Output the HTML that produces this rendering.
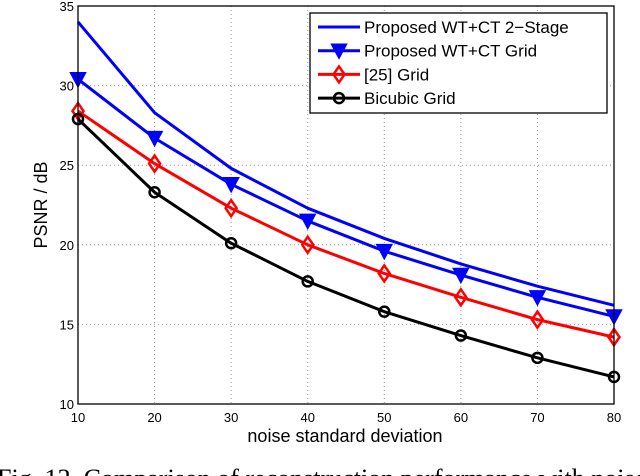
<!DOCTYPE html>
<html><head><meta charset="utf-8"><style>
body{margin:0;background:#fff;width:640px;height:476px;overflow:hidden}
svg{display:block;font-family:"Liberation Sans",sans-serif}
</style></head><body>
<svg width="640" height="476" id="chart">
<g id="grid"></g>
<g id="series"></g>
<rect x="78" y="6" width="536" height="398" fill="none" stroke="#000" stroke-width="1.3"/>
<g id="ticks" font-size="13"></g>
<text x="345" y="442" text-anchor="middle" font-size="18">noise standard deviation</text>
<text transform="translate(47,205) rotate(-90)" text-anchor="middle" font-size="18">PSNR / dB</text>
<g id="legend"></g>
<text x="-3" y="487" font-size="26" font-family="Liberation Serif,serif">Fig. 12. Comparison of reconstruction performance with noise</text>
</svg>
<script>
const xVals=[10,20,30,40,50,60,70,80];
const twoStage=[34.0,28.3,24.8,22.3,20.4,18.8,17.4,16.2];
const wtGrid=[30.4,26.7,23.8,21.5,19.6,18.1,16.7,15.5];
const ref25=[28.4,25.1,22.3,20.0,18.2,16.7,15.3,14.2];
const bicubic=[27.9,23.3,20.1,17.7,15.8,14.3,12.9,11.7];
const xTicks=[10,20,30,40,50,60,70,80];
const yTicks=[10,15,20,25,30,35];
const legendLabels=["Proposed WT+CT 2\u2212Stage","Proposed WT+CT Grid","[25] Grid","Bicubic Grid"];
const NS="http://www.w3.org/2000/svg";
const X=v=>78+(v-10)*(536/70);
const Y=v=>404-(v-10)*(398/25);
function mk(t,a,p){const e=document.createElementNS(NS,t);for(const k in a)e.setAttribute(k,a[k]);p.appendChild(e);return e;}
const grid=document.getElementById('grid'),ticks=document.getElementById('ticks');
xTicks.forEach(t=>{
 if(t>10&&t<80){const l=mk('line',{x1:X(t),x2:X(t),y1:6,y2:404,stroke:'#999','stroke-dasharray':'1,3'},grid);
 
 }
 const tx=mk('text',{x:X(t),y:422,'text-anchor':'middle'},ticks);tx.textContent=t;
 
 
});
yTicks.forEach(t=>{
 if(t>10&&t<35){const l=mk('line',{x1:78,x2:614,y1:Y(t),y2:Y(t),stroke:'#999','stroke-dasharray':'1,3'},grid);
 
 }
 const tx=mk('text',{x:74,y:Y(t)+5,'text-anchor':'end'},ticks);tx.textContent=t;
 
 
});
function marker(type,cx,cy,col,p){
 let m;
 if(type==='tri') m=mk('path',{d:`M${cx-7.5},${cy-6.5}L${cx+7.5},${cy-6.5}L${cx},${cy+7.5}Z`,fill:col,stroke:col,'stroke-width':1.5},p);
 else if(type==='dia') m=mk('path',{d:`M${cx},${cy-8}L${cx+5.5},${cy}L${cx},${cy+8}L${cx-5.5},${cy}Z`,fill:'none',stroke:col,'stroke-width':2.5},p);
 else if(type==='circ') m=mk('circle',{cx:cx,cy:cy,r:5,fill:'none',stroke:col,'stroke-width':2.5},p);
 if(m){
 }
}
const ser=[[twoStage,'#0000ff',null],[wtGrid,'#0000ff','tri'],[ref25,'#ff0000','dia'],[bicubic,'#000','circ']];
const sg=document.getElementById('series');
ser.forEach(([d,c,m],i)=>{
 const pl=mk('polyline',{points:d.map((v,j)=>X(xVals[j])+','+Y(v)).join(' '),fill:'none',stroke:c,'stroke-width':3,'stroke-linejoin':'round'},sg);
 
 
 if(m) d.forEach((v,j)=>marker(m,X(xVals[j]),Y(v),c,sg));
});
const lg=document.getElementById('legend');
const box=mk('rect',{x:310,y:13,width:297,height:100,fill:'#fff',stroke:'#000','stroke-width':1.3},lg);


ser.forEach(([d,c,m],i)=>{
 const y=27+i*23.7;
 const l=mk('line',{x1:318,x2:360,y1:y,y2:y,stroke:c,'stroke-width':3},lg);
 
 
 if(m) marker(m,339,y,c,lg);
 const t=mk('text',{x:364,y:y+6,'font-size':17},lg);t.textContent=legendLabels[i];
 
 
});
</script>
</body></html>
